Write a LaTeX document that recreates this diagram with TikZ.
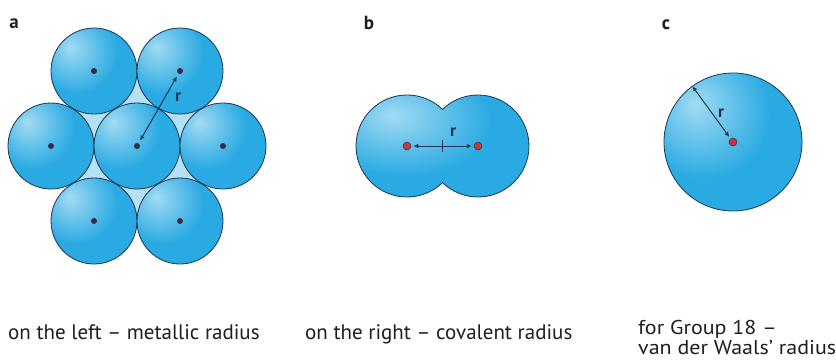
\documentclass[tikz,border=0pt]{standalone}
\usepackage{fontspec}
\setmainfont{PT Sans}
\newfontfamily\widecapt[FakeStretch=1.1,Ligatures=TeX]{PT Sans}
\usetikzlibrary{arrows.meta,calc}
\definecolor{ball}{HTML}{2AAAE2}
\definecolor{ballhl}{HTML}{A2DBF3}
\definecolor{edge}{HTML}{1E3550}
\definecolor{gap}{HTML}{B5E1F4}
\definecolor{dotdark}{HTML}{3B2A4A}
\definecolor{dotred}{HTML}{C8363F}
\definecolor{txt}{HTML}{1E1E1E}
\pgfdeclareradialshading{sphere}{\pgfpoint{-14bp}{14bp}}{color(0bp)=(ballhl); color(24bp)=(ball); color(100bp)=(ball)}
\tikzset{
  sph/.style={draw=edge, line width=0.8pt, shading=sphere},
  ddot/.style={circle, fill=dotdark, inner sep=0pt, minimum size=6pt},
  rdot/.style={circle, fill=dotred, draw=edge, line width=0.5pt, inner sep=0pt, minimum size=8pt},
  rline/.style={draw=edge, line width=1pt},
  rarr/.style={rline, -{Latex[length=5pt,width=4.5pt]}},
  rarrs/.style={rline, {Latex[length=5pt,width=4.5pt]}-{Latex[length=5pt,width=4.5pt]}},
  rlab/.style={font=\bfseries\fontsize{17}{17}\selectfont, text=edge, inner sep=0pt},
  plab/.style={font=\bfseries\fontsize{19}{19}\selectfont, text=txt, anchor=base, inner sep=0pt},
  capt/.style={font=\fontsize{21}{18}\selectfont, text=txt, anchor=base west, inner sep=0pt},
  captc/.style={font=\widecapt\fontsize{20}{18}\selectfont, text=txt, anchor=base west, inner sep=0pt}
}
\begin{document}
\begin{tikzpicture}[x=1pt,y=-1pt]
\useasboundingbox (0,0) rectangle (836,362);
% ---------- panel a ----------
\node[plab] (la) at (14,28) {a};
\coordinate (C) at (137,146);
\coordinate (L) at (51,146);
\coordinate (R) at (223,146);
\coordinate (TL) at (94,71);
\coordinate (TR) at (180,71);
\coordinate (BL) at (94,221);
\coordinate (BR) at (180,221);
\fill[gap] (TL) -- (TR) -- (R) -- (BR) -- (BL) -- (L) -- cycle;
\foreach \p in {TL,TR,L,C,R,BL,BR}{
  \shadedraw[sph] (\p) circle[radius=43];
}
\foreach \p in {TL,TR,L,C,R,BL,BR}{
  \node[ddot] (d\p) at (\p) {};
}
\coordinate (m) at ($(C)!0.5!(TR)$);
\draw[rline] ($(m)!4pt!90:(TR)$) -- ($(m)!4pt!-90:(TR)$);
\draw[rarrs, shorten >=3pt, shorten <=3pt] (dC) -- (dTR);
\node[rlab] (ra) at (178,97) {r};
% ---------- panel b ----------
\node[plab] (lb) at (369,29) {b};
\coordinate (bL) at (407,146);
\coordinate (bR) at (478,146);
\shadedraw[sph] (bL) ++(45.9:51) arc[start angle=45.9, end angle=314.1, radius=51]
   arc[start angle=-134.1, end angle=134.1, radius=51] -- cycle;
\node[rdot] (dbL) at (bL) {};
\node[rdot] (dbR) at (bR) {};
\coordinate (bM) at ($(bL)!0.5!(bR)$);
\draw[rline] ($(bM)+(0,-6)$) -- ($(bM)+(0,6)$);
\draw[rarr, shorten >=2pt] (bM) -- (dbL);
\draw[rarr, shorten >=2pt] (bM) -- (dbR);
\node[rlab] (rb) at (453,132) {r};
% ---------- panel c ----------
\node[plab] (lc) at (666,29) {c};
\coordinate (cC) at (733,142);
\shadedraw[sph] (cC) circle[radius=69];
\node[rdot] (dc) at (cC) {};
\coordinate (ce) at ($(cC)+(-40.6,-55.8)$);
\draw[rarrs, shorten >=2pt] (ce) -- (dc);
\node[rlab] (rc) at (721,113) {r};
% ---------- captions ----------
\node[capt] (t1) at (8,339) {on the left – metallic radius};
\node[capt] (t2) at (305,339) {on the right – covalent radius};
\node[captc] (t3) at (638,334) {for Group 18 –};
\node[captc] (t4) at (638,354) {van der Waals’ radius};
\end{tikzpicture}
\end{document}
